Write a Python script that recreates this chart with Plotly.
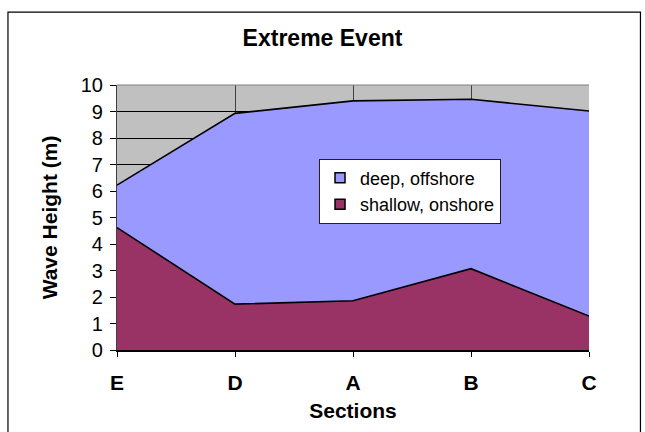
import plotly.graph_objects as go

# Wave heights per section (m)
sections = ["E", "D", "A", "B", "C"]
deep_offshore = [6.22, 8.93, 9.4, 9.46, 9.02]
shallow_onshore = [4.62, 1.73, 1.86, 3.07, 1.28]
y_ticks = list(range(0, 11))

series = [
    ("deep, offshore", deep_offshore, "#9999FF"),
    ("shallow, onshore", shallow_onshore, "#993366"),
]

FONT = "Liberation Sans, Arial, sans-serif"

fig = go.Figure()

# filled areas, drawn back to front
for name, values, colour in series:
    fig.add_trace(go.Scatter(
        x=sections, y=values, name=name, showlegend=False,
        mode="lines", fill="tozeroy",
        line=dict(color="black", width=1.6),
        fillcolor=colour,
    ))

# square legend keys
for i, (name, values, colour) in enumerate(series):
    fig.add_trace(go.Scatter(
        x=[None], y=[None], name=name, mode="markers",
        legendgroup=f"g{i}",
        marker=dict(symbol="square", size=10, color=colour,
                    line=dict(color="black", width=1.5)),
    ))

# outer chart border (runs off the bottom edge of the page)
fig.add_shape(type="rect", xref="paper", yref="paper",
              x0=-0.231, x1=1.109, y0=-0.33, y1=1.275,
              line=dict(color="black", width=1.2), fillcolor="rgba(0,0,0,0)",
              layer="below")

fig.update_layout(
    width=645, height=432,
    margin=dict(l=117, r=56, t=85, b=82),
    paper_bgcolor="white",
    plot_bgcolor="#C0C0C0",
    font=dict(family=FONT, color="black"),
    title=dict(text="<b>Extreme Event</b>", x=0.5, xanchor="center",
               y=0.912, yanchor="middle", font=dict(size=23, family=FONT)),
    showlegend=True,
    legend=dict(x=0.428, y=0.722, xanchor="left", yanchor="top",
                bgcolor="white", bordercolor="#202020", borderwidth=1,
                font=dict(size=18, family=FONT), traceorder="grouped",
                tracegroupgap=0, itemwidth=30),
    xaxis=dict(
        type="category", range=[0, 4],
        showgrid=True, gridcolor="#404040", gridwidth=1,
        showline=True, linecolor="black", linewidth=1.5,
        ticks="outside", ticklen=5, tickcolor="black",
        tickfont=dict(size=21, family=FONT),
        tickprefix="<b>", ticksuffix="</b>",
        ticklabelstandoff=8,
        title=dict(text="<b>Sections</b>", font=dict(size=21, family=FONT), standoff=10),
    ),
    yaxis=dict(
        range=[0, 10], tickvals=y_ticks,
        showgrid=True, gridcolor="black", gridwidth=1,
        showline=True, linecolor="#404040", linewidth=1.2,
        ticks="outside", ticklen=6, tickcolor="black",
        tickfont=dict(size=20, family=FONT),
        ticklabelstandoff=3,
        title=dict(text="<b>Wave Height (m)</b>", font=dict(size=21, family=FONT), standoff=17),
        zeroline=False,
    ),
)

fig.add_shape(type="line", xref="paper", yref="paper", x0=0, x1=1, y0=1, y1=1,
              line=dict(color="#808080", width=1))

fig.write_html("out.html")
